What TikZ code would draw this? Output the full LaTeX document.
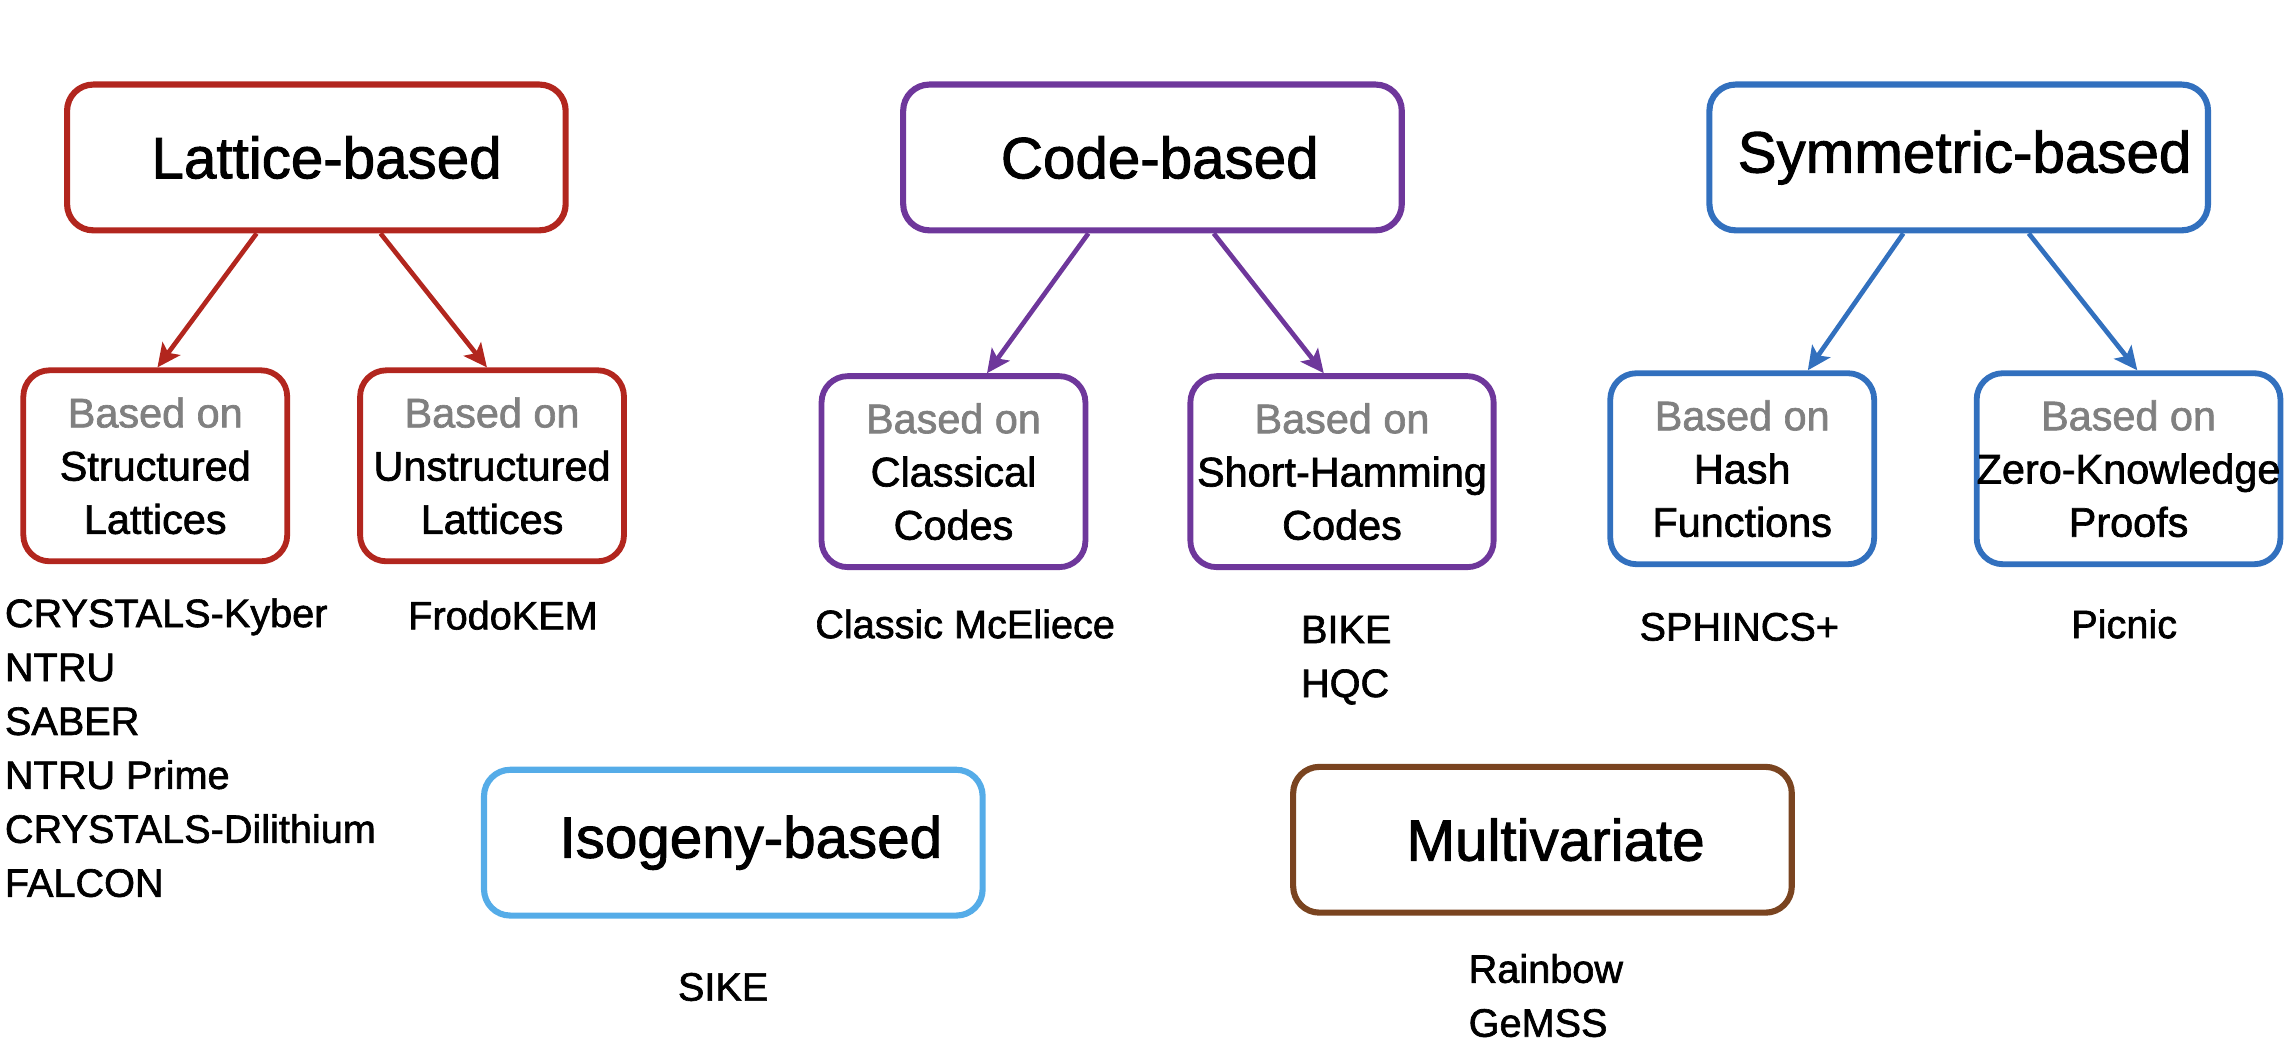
\documentclass[tikz,border=0pt]{standalone}
\usepackage{fontspec}
\setmainfont{Liberation Sans}[UprightFeatures={FakeBold=1.6}]
\usepackage{tikz}
\usetikzlibrary{arrows.meta,calc}

\definecolor{latred}{RGB}{178,38,30}
\definecolor{codepurple}{RGB}{110,55,155}
\definecolor{symblue}{RGB}{50,112,190}
\definecolor{isoblue}{RGB}{85,172,232}
\definecolor{mvbrown}{RGB}{122,68,32}
\definecolor{basegray}{RGB}{128,128,128}

\tikzset{
  family/.style={draw=#1, line width=2.1pt, rounded corners=9pt, minimum width=171pt, minimum height=50pt, inner sep=0pt, font=\fontsize{20}{24}\selectfont},
  basis/.style={draw=#1, line width=2pt, rounded corners=9pt, minimum width=90.5pt, minimum height=65.5pt, inner sep=0pt, align=center, font=\fontsize{14.2}{18.25}\selectfont},
  scheme/.style={inner sep=0pt, align=left, font=\fontsize{13.6}{18.5}\selectfont},
  branch/.style={draw=#1, line width=1.6pt, -{Stealth[length=8pt,width=7.5pt,inset=1.8pt,fill=#1]}}
}
\newcommand{\basedon}{\textcolor{basegray}{Based on}}

\begin{document}
\begin{tikzpicture}[x=0.5pt,y=0.5pt,yscale=-1,xscale=1]
\useasboundingbox (0,0) rectangle (1568,717);

% Families
\node[family=latred] (lat) at (217,108) {\hspace*{7pt}Lattice-based};
\node[family=codepurple] (code) at (790.5,108) {\hspace*{5pt}Code-based};
\node[family=symblue] (sym) at (1343.5,108) {\hspace*{4pt}Symmetric-based};
\node[family=isoblue] (iso) at (503,578) {\hspace*{12pt}Isogeny-based};
\node[family=mvbrown] (mv) at (1058,576) {\hspace*{9pt}Multivariate};

% Bases
\node[basis=latred] (slat) at (106.5,319.5) {\basedon\\Structured\\Lattices};
\node[basis=latred] (ulat) at (337.5,319.5) {\basedon\\Unstructured\\Lattices};
\node[basis=codepurple] (ccode) at (654,323.5) {\basedon\\Classical\\Codes};
\node[basis=codepurple, minimum width=104pt] (hcode) at (920.5,323.5) {\basedon\\Short-Hamming\\Codes};
\node[basis=symblue] (hash) at (1195,321.5) {\basedon\\Hash\\Functions};
\node[basis=symblue, minimum width=104pt] (zkp) at (1460,321.5) {\basedon\\Zero-Knowledge\\Proofs};

% Arrows
\draw[branch=latred] ($(lat.south)+(-41,0)$) -- ($(slat.north)+(1.5,0)$);
\draw[branch=latred] ($(lat.south)+(44,0)$) -- ($(ulat.north)+(-3.5,0)$);
\draw[branch=codepurple] ($(code.south)+(-44,0)$) -- ($(ccode.north)+(23,0)$);
\draw[branch=codepurple] ($(code.south)+(42,0)$) -- ($(hcode.north)+(-12.5,0)$);
\draw[branch=symblue] ($(sym.south)+(-38,0)$) -- ($(hash.north)+(45,0)$);
\draw[branch=symblue] ($(sym.south)+(48,0)$) -- ($(zkp.north)+(6,0)$);

% Schemes
\node[scheme, anchor=north west] (lattList) at (3,410) {CRYSTALS-Kyber\\NTRU\\SABER\\NTRU Prime\\CRYSTALS-Dilithium\\FALCON};
\node[scheme] (frodo) at (345,422) {FrodoKEM};
\node[scheme] (mceliece) at (662,428) {Classic McEliece};
\node[scheme, anchor=north west] (hamList) at (892,422) {BIKE\\HQC};
\node[scheme] (sphincs) at (1193,430) {SPHINCS+};
\node[scheme] (picnic) at (1457,428) {Picnic};
\node[scheme] (sike) at (496,677) {SIKE};
\node[scheme, anchor=north west] (mvList) at (1007,654) {Rainbow\\GeMSS};

\end{tikzpicture}
\end{document}
